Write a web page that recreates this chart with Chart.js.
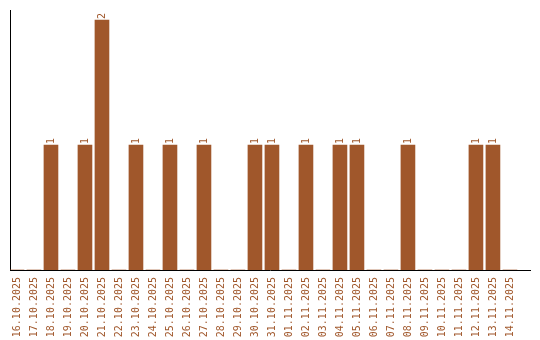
<!DOCTYPE html>
<html>
<head>
<meta charset="utf-8">
<script src="https://cdn.jsdelivr.net/npm/chart.js@4/dist/chart.umd.min.js"></script>
<style>
  html, body { margin: 0; padding: 0; background: #fff; }
  #wrap { width: 540px; height: 340px; }
</style>
</head>
<body>
<div id="wrap"><canvas id="chart"></canvas></div>
<script>
// ==== Data ====
const dates = [
  "16.10.2025", "17.10.2025", "18.10.2025", "19.10.2025", "20.10.2025",
  "21.10.2025", "22.10.2025", "23.10.2025", "24.10.2025", "25.10.2025",
  "26.10.2025", "27.10.2025", "28.10.2025", "29.10.2025", "30.10.2025",
  "31.10.2025", "01.11.2025", "02.11.2025", "03.11.2025", "04.11.2025",
  "05.11.2025", "06.11.2025", "07.11.2025", "08.11.2025", "09.11.2025",
  "10.11.2025", "11.11.2025", "12.11.2025", "13.11.2025", "14.11.2025"
];
const counts = [0, 0, 1, 0, 1, 2, 0, 1, 0, 1, 0, 1, 0, 0, 1, 1, 0, 1, 0, 1, 1, 0, 0, 1, 0, 0, 0, 1, 1, 0];

const brown = "#a0572b";
const monoFont = { family: "'DejaVu Sans Mono', 'Liberation Mono', monospace", size: 10 };

// số trên đầu cột, xoay 90 độ
const valueLabels = {
  id: 'valueLabels',
  afterDatasetsDraw(chart) {
    const ctx = chart.ctx;
    const meta = chart.getDatasetMeta(0);
    ctx.save();
    ctx.font = "10px 'DejaVu Sans Mono', 'Liberation Mono', monospace";
    ctx.fillStyle = brown;
    ctx.textAlign = 'left';
    ctx.textBaseline = 'middle';
    meta.data.forEach((bar, i) => {
      const v = counts[i];
      if (!v) return;
      ctx.save();
      ctx.translate(bar.x, bar.y - 1);
      ctx.rotate(-Math.PI / 2);
      ctx.fillText(String(v), 0, 0);
      ctx.restore();
    });
    ctx.restore();
  }
};

new Chart(document.getElementById('chart'), {
  type: 'bar',
  data: {
    datasets: [{
      data: counts.map((v, i) => ({ x: i, y: v })),
      backgroundColor: brown,
      borderWidth: 0,
      barThickness: 14
    }]
  },
  options: {
    responsive: true,
    maintainAspectRatio: false,
    animation: false,
    layout: { padding: { left: 10, right: 10, top: 10, bottom: 0 } },
    plugins: { legend: { display: false }, tooltip: { enabled: false } },
    scales: {
      x: {
        type: 'linear',
        offset: false,
        min: -0.41,
        max: 30.18,
        afterBuildTicks(scale) { scale.ticks = dates.map((d, i) => ({ value: i })); },
        afterFit(scale) { scale.height = 70; },
        grid: { display: false, drawTicks: false },
        border: { display: true, color: '#000', width: 1 },
        ticks: {
          autoSkip: false,
          minRotation: 90,
          maxRotation: 90,
          padding: 7,
          color: brown,
          font: monoFont,
          callback: (v) => dates[v] !== undefined ? dates[v] : ''
        }
      },
      y: {
        min: 0,
        max: 2.08,
        grid: { display: false, drawTicks: false },
        border: { display: true, color: '#000', width: 1 },
        ticks: { display: false }
      }
    }
  },
  plugins: [valueLabels]
});
</script>
</body>
</html>
